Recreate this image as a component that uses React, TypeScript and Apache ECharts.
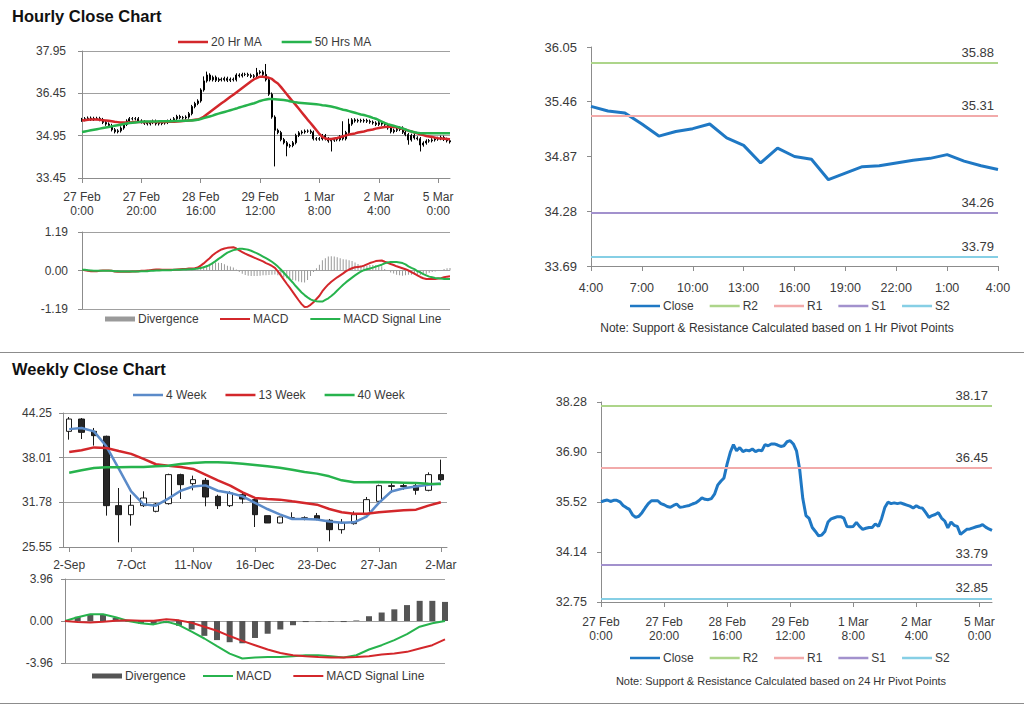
import React, { useEffect, useRef } from 'react';
import * as echarts from 'echarts';

// ---------- categories ----------
const hourDays = ['27 Feb', '28 Feb', '29 Feb', '1 Mar', '2 Mar', '5 Mar'];
const hourlyCategories: string[] = [];
for (const d of hourDays) for (let h = 0; h < 24; h++) hourlyCategories.push(`${d}\n${h}:00`);
hourlyCategories.length = 125;
const last24Categories = hourlyCategories.slice(100).map((c) => c.split('\n')[1]);

const weeklyCategories = ['2-Sep', '9-Sep', '16-Sep', '23-Sep', '30-Sep', '7-Oct', '14-Oct', '21-Oct', '28-Oct', '4-Nov', '11-Nov', '18-Nov', '25-Nov', '2-Dec', '9-Dec', '16-Dec', '17-Dec', '18-Dec', '19-Dec', '20-Dec', '23-Dec', '30-Dec', '6-Jan', '13-Jan', '20-Jan', '27-Jan', '3-Feb', '10-Feb', '17-Feb', '24-Feb', '2-Mar'];

// ---------- tick labels ----------
const hourlyPriceTicks = ['33.45', '34.95', '36.45', '37.95'];
const hourlyMacdTicks = ['-1.19', '0.00', '1.19'];
const last24Ticks = ['33.69', '34.28', '34.87', '35.46', '36.05'];
const hourlyLineTicks = ['32.75', '34.14', '35.52', '36.90', '38.28'];
const weeklyPriceTicks = ['25.55', '31.78', '38.01', '44.25'];
const weeklyMacdTicks = ['-3.96', '0.00', '3.96'];

// ---------- hourly data ----------
const hourlyClose = [35.52, 35.55, 35.57, 35.53, 35.56, 35.56, 35.52, 35.42, 35.36, 35.31,
  35.16, 35.09, 35.12, 35.22, 35.35, 35.47, 35.55, 35.55, 35.55, 35.47,
  35.44, 35.39, 35.37, 35.42, 35.46, 35.37, 35.38, 35.40, 35.42, 35.46,
  35.49, 35.55, 35.63, 35.59, 35.58, 35.61, 35.73, 35.98, 36.09, 36.18,
  36.57, 36.89, 37.10, 36.93, 37.02, 36.91, 36.95, 36.93, 36.98, 36.91,
  36.95, 36.93, 37.10, 37.07, 37.12, 37.12, 37.09, 37.05, 37.07, 37.18,
  37.21, 37.12, 36.93, 36.42, 35.61, 35.14, 35.06, 34.81, 34.70, 34.58,
  34.60, 34.70, 34.96, 35.05, 35.08, 35.11, 35.11, 35.07, 34.84, 34.83,
  34.84, 34.95, 34.84, 34.76, 34.79, 34.81, 34.81, 34.91, 34.84, 35.06,
  35.36, 35.51, 35.47, 35.49, 35.47, 35.49, 35.46, 35.43, 35.40, 35.35,
  35.41, 35.36, 35.34, 35.22, 35.09, 35.14, 35.17, 35.22, 35.07, 34.99,
  34.80, 34.96, 34.87, 34.84, 34.62, 34.69, 34.76, 34.77, 34.80, 34.83,
  34.85, 34.89, 34.82, 34.77, 34.73];
const hourlyFirstOpen = 35.50;
const hourlyWick = 0.06;
const hourlyHighSpikes: [number, number][] = [[41, 37.05], [42, 37.22], [59, 37.35], [62, 37.49], [88, 35.46], [90, 35.55]];
const hourlyLowSpikes: [number, number][] = [[65, 33.86], [69, 34.22], [84, 34.39], [110, 34.63], [114, 34.39]];

const hourlyMa20 = [35.49, 35.50, 35.51, 35.52, 35.52, 35.52, 35.51, 35.50, 35.49, 35.48,
  35.46, 35.44, 35.43, 35.42, 35.42, 35.42, 35.42, 35.43, 35.43, 35.43,
  35.43, 35.43, 35.43, 35.43, 35.43, 35.43, 35.43, 35.43, 35.43, 35.44,
  35.44, 35.44, 35.45, 35.46, 35.47, 35.48, 35.49, 35.50, 35.51, 35.52,
  35.56, 35.62, 35.70, 35.78, 35.86, 35.94, 36.02, 36.10, 36.17, 36.25,
  36.33, 36.40, 36.48, 36.56, 36.64, 36.72, 36.80, 36.88, 36.95, 37.00,
  37.04, 37.04, 37.02, 37.00, 36.96, 36.87, 36.80, 36.68, 36.55, 36.42,
  36.29, 36.16, 36.04, 35.91, 35.78, 35.65, 35.52, 35.40, 35.27, 35.14,
  35.01, 34.91, 34.85, 34.83, 34.83, 34.85, 34.87, 34.90, 34.93, 34.96,
  34.99, 35.01, 35.03, 35.06, 35.08, 35.10, 35.13, 35.15, 35.17, 35.20,
  35.22, 35.24, 35.26, 35.27, 35.27, 35.26, 35.25, 35.22, 35.19, 35.16,
  35.13, 35.10, 35.06, 35.03, 35.00, 34.97, 34.94, 34.92, 34.90, 34.88,
  34.86, 34.85, 34.84, 34.83, 34.82];
const hourlyMa50 = [35.08, 35.10, 35.12, 35.14, 35.16, 35.18, 35.20, 35.22, 35.24, 35.26,
  35.28, 35.30, 35.32, 35.34, 35.36, 35.38, 35.40, 35.41, 35.42, 35.43,
  35.44, 35.45, 35.45, 35.45, 35.45, 35.45, 35.46, 35.46, 35.46, 35.46,
  35.46, 35.47, 35.47, 35.47, 35.48, 35.48, 35.49, 35.49, 35.50, 35.51,
  35.54, 35.57, 35.60, 35.63, 35.66, 35.70, 35.73, 35.76, 35.79, 35.82,
  35.85, 35.88, 35.91, 35.95, 35.98, 36.01, 36.04, 36.07, 36.10, 36.14,
  36.18, 36.21, 36.23, 36.25, 36.25, 36.24, 36.23, 36.22, 36.21, 36.20,
  36.17, 36.15, 36.13, 36.12, 36.11, 36.10, 36.09, 36.08, 36.07, 36.06,
  36.05, 36.03, 36.02, 36.00, 35.98, 35.96, 35.93, 35.90, 35.87, 35.85,
  35.82, 35.79, 35.76, 35.73, 35.70, 35.68, 35.65, 35.62, 35.58, 35.55,
  35.50, 35.45, 35.40, 35.36, 35.33, 35.30, 35.27, 35.24, 35.21, 35.17,
  35.13, 35.10, 35.07, 35.05, 35.04, 35.04, 35.04, 35.04, 35.04, 35.04,
  35.04, 35.04, 35.04, 35.04, 35.04];
const hourlyMacd = [0.02, 0.01, -0.01, -0.02, -0.02, -0.02, -0.01, 0.00, 0.00, 0.00,
  -0.01, -0.03, -0.04, -0.04, -0.04, -0.04, -0.04, -0.03, -0.03, -0.02,
  -0.01, -0.01, 0.00, 0.01, 0.02, 0.03, 0.03, 0.02, 0.02, 0.02,
  0.02, 0.02, 0.03, 0.04, 0.05, 0.05, 0.06, 0.06, 0.07, 0.09,
  0.15, 0.22, 0.30, 0.38, 0.47, 0.54, 0.60, 0.65, 0.68, 0.70,
  0.71, 0.72, 0.68, 0.62, 0.57, 0.52, 0.48, 0.44, 0.40, 0.36,
  0.32, 0.28, 0.23, 0.19, 0.14, 0.08, -0.03, -0.15, -0.28, -0.41,
  -0.53, -0.66, -0.79, -0.92, -1.04, -1.13, -1.12, -1.06, -0.98, -0.88,
  -0.78, -0.64, -0.53, -0.43, -0.35, -0.28, -0.21, -0.15, -0.09, -0.02,
  0.03, 0.07, 0.10, 0.11, 0.12, 0.15, 0.19, 0.23, 0.26, 0.29,
  0.30, 0.31, 0.27, 0.24, 0.20, 0.17, 0.13, 0.10, 0.07, 0.04,
  0.00, -0.05, -0.10, -0.15, -0.20, -0.24, -0.26, -0.26, -0.26, -0.26,
  -0.25, -0.24, -0.21, -0.19, -0.18];
const hourlySignal = [0.02, 0.02, 0.01, 0.00, -0.01, -0.01, -0.01, -0.01, -0.01, -0.01,
  -0.01, -0.02, -0.02, -0.03, -0.03, -0.03, -0.03, -0.03, -0.03, -0.03,
  -0.02, -0.02, -0.02, -0.01, -0.01, 0.00, 0.00, 0.01, 0.01, 0.01,
  0.01, 0.02, 0.02, 0.02, 0.03, 0.03, 0.04, 0.04, 0.05, 0.06,
  0.08, 0.10, 0.13, 0.17, 0.23, 0.29, 0.36, 0.42, 0.49, 0.55,
  0.59, 0.63, 0.65, 0.67, 0.67, 0.66, 0.64, 0.61, 0.57, 0.53,
  0.48, 0.43, 0.38, 0.33, 0.27, 0.20, 0.12, 0.03, -0.07, -0.17,
  -0.27, -0.37, -0.48, -0.58, -0.68, -0.76, -0.83, -0.89, -0.93, -0.95,
  -0.96, -0.96, -0.91, -0.86, -0.79, -0.71, -0.62, -0.53, -0.44, -0.36,
  -0.29, -0.22, -0.15, -0.09, -0.03, 0.01, 0.04, 0.06, 0.09, 0.12,
  0.15, 0.18, 0.22, 0.25, 0.26, 0.26, 0.26, 0.25, 0.23, 0.19,
  0.13, 0.08, 0.04, -0.02, -0.06, -0.11, -0.15, -0.19, -0.21, -0.23,
  -0.24, -0.25, -0.26, -0.26, -0.26];
const hourlyDivergence = [0.00, -0.01, -0.02, -0.02, -0.01, -0.01, 0.00, 0.01, 0.01, 0.01,
  0.00, -0.01, -0.02, -0.01, -0.01, -0.01, -0.01, 0.00, 0.00, 0.01,
  0.01, 0.01, 0.02, 0.02, 0.03, 0.03, 0.03, 0.01, 0.01, 0.01,
  0.01, 0.00, 0.01, 0.02, 0.02, 0.02, 0.02, 0.02, 0.02, 0.03,
  0.07, 0.12, 0.17, 0.21, 0.24, 0.25, 0.24, 0.23, 0.19, 0.15,
  0.12, 0.09, 0.03, -0.05, -0.10, -0.14, -0.16, -0.17, -0.17, -0.17,
  -0.16, -0.15, -0.15, -0.14, -0.13, -0.12, -0.15, -0.18, -0.21, -0.24,
  -0.26, -0.29, -0.31, -0.34, -0.36, -0.37, -0.29, -0.17, -0.05, 0.07,
  0.18, 0.32, 0.38, 0.43, 0.44, 0.43, 0.41, 0.38, 0.35, 0.34,
  0.32, 0.29, 0.25, 0.20, 0.15, 0.14, 0.15, 0.17, 0.17, 0.17,
  0.15, 0.13, 0.05, -0.01, -0.06, -0.09, -0.13, -0.15, -0.16, -0.15,
  -0.13, -0.13, -0.14, -0.13, -0.14, -0.13, -0.11, -0.07, -0.05, -0.03,
  -0.01, 0.01, 0.05, 0.07, 0.08];

// pivot levels
const pivotNames = ['R2', 'R1', 'S1', 'S2'];
const pivot1hValues = [35.88, 35.31, 34.26, 33.79];
const pivot24hValues = [38.17, 36.45, 33.79, 32.85];

// ---------- weekly data ----------
const weeklyOpen = [41.69, 43.41, 41.69, 41.00, 31.32, 30.06, 31.32, 30.53, 31.60, 35.65, 34.39, 34.85, 32.62, 31.32, 32.85, 32.16, 29.92, 28.90, 29.62, 29.60, 29.92, 29.28, 27.97, 28.81, 30.06, 31.93, 34.00, 34.11, 34.11, 33.46, 35.65];
const weeklyClose = [43.41, 41.55, 41.09, 31.32, 30.06, 31.37, 32.39, 31.55, 35.65, 34.25, 34.95, 32.53, 31.32, 33.09, 32.25, 30.06, 28.90, 29.74, 29.60, 29.62, 29.46, 27.97, 28.99, 30.06, 32.16, 34.11, 34.11, 34.00, 33.46, 35.65, 34.95];
const weeklyLow = [40.53, 40.62, 39.70, 29.93, 26.20, 28.53, 31.13, 30.39, 31.46, 32.25, 33.46, 31.23, 30.85, 31.13, 31.60, 28.34, 28.90, 28.85, 29.37, 29.28, 29.28, 26.34, 27.41, 28.67, 29.83, 31.78, 33.09, 33.55, 32.85, 33.32, 34.72];
const weeklyHigh = [43.69, 43.55, 42.16, 41.09, 33.78, 32.85, 33.32, 31.69, 35.78, 35.78, 35.51, 35.18, 32.85, 33.32, 33.32, 32.53, 29.92, 29.80, 30.39, 29.83, 30.30, 29.46, 29.46, 30.53, 32.53, 34.25, 34.72, 34.58, 34.39, 35.97, 37.74];
const weeklyMa4 = [42.00, 42.16, 41.69, 39.60, 36.50, 33.30, 31.50, 31.32, 32.30, 33.40, 34.00, 34.15, 33.40, 33.09, 32.62, 31.70, 30.85, 30.10, 29.46, 29.46, 29.40, 29.10, 28.92, 29.00, 29.80, 31.70, 33.30, 33.75, 34.00, 34.25, 34.40];
const weeklyMa13 = [38.80, 39.04, 39.45, 39.37, 38.95, 38.55, 37.85, 37.10, 36.90, 36.72, 36.44, 35.65, 34.85, 34.11, 33.18, 32.39, 32.25, 32.16, 31.92, 31.69, 31.46, 30.85, 30.39, 30.20, 30.20, 30.39, 30.53, 30.67, 30.76, 31.32, 31.80];
const weeklyMa40 = [35.90, 36.25, 36.58, 36.67, 36.67, 36.72, 36.72, 36.81, 36.90, 37.13, 37.27, 37.37, 37.37, 37.32, 37.18, 37.00, 36.81, 36.62, 36.34, 36.02, 35.79, 35.41, 34.85, 34.58, 34.58, 34.62, 34.58, 34.53, 34.48, 34.39, 34.34];
const weeklyMacd = [0.00, 0.35, 0.63, 0.63, 0.35, 0.00, -0.22, -0.32, -0.06, -0.38, -1.01, -1.65, -2.37, -3.07, -3.54, -3.45, -3.39, -3.39, -3.32, -3.23, -3.23, -3.32, -3.45, -3.23, -2.69, -2.28, -1.80, -1.23, -0.54, -0.22, 0.00];
const weeklySignal = [0.00, -0.10, -0.13, -0.06, 0.03, 0.06, 0.03, 0.03, 0.16, 0.06, -0.16, -0.54, -0.92, -1.42, -1.87, -2.28, -2.69, -3.01, -3.23, -3.32, -3.39, -3.45, -3.45, -3.39, -3.32, -3.16, -3.07, -2.91, -2.59, -2.28, -1.74];
const weeklyDivergence = [0.00, 0.40, 0.57, 0.60, 0.30, -0.06, -0.25, -0.30, -0.20, -0.45, -0.80, -1.40, -1.80, -2.00, -2.10, -1.60, -1.20, -0.80, -0.40, -0.10, -0.05, -0.05, -0.10, 0.05, 0.45, 0.80, 1.10, 1.50, 1.90, 1.90, 1.80];

// ---------- styling ----------
const FONT = 'Liberation Sans, Arial, sans-serif';
const axisGray = '#8c8c8c';
const gridGray = '#a0a0a0';
const labelColor = '#3a3a3a';
const closeBlue = '#1f78c4';
const pivotColors = ['#add58a', '#f2aaaa', '#a291cd', '#86cfe5'];
const red = '#d3272b';
const green = '#27b34d';
const weeklyBlue = '#5b8bc9';
const divLight = '#9a9a9a';
const divDark = '#555555';

function valueAxis(gridIndex: number, ticks: string[], split: boolean, margin: number, fontSize = 12) {
  const min = parseFloat(ticks[0]);
  const max = parseFloat(ticks[ticks.length - 1]);
  const interval = (max - min) / (ticks.length - 1);
  return {
    type: 'value', gridIndex, min, max, interval,
    axisLine: { show: true, lineStyle: { color: axisGray } },
    axisTick: { show: true, length: 4, lineStyle: { color: axisGray } },
    splitLine: { show: split, lineStyle: { color: gridGray } },
    axisLabel: {
      margin, fontSize, color: labelColor, fontFamily: FONT,
      formatter: (v: number) => ticks[Math.round((v - min) / interval)] ?? '',
    },
  };
}

function catAxis(gridIndex: number, data: string[], opts: any) {
  return {
    type: 'category', gridIndex, data, boundaryGap: opts.boundaryGap ?? false,
    axisLine: { show: opts.show !== false, onZero: false, lineStyle: { color: axisGray } },
    axisTick: { show: opts.show !== false, length: 5, interval: opts.interval, alignWithLabel: true, lineStyle: { color: axisGray } },
    axisLabel: {
      show: opts.show !== false, interval: opts.interval, margin: opts.margin ?? 8,
      fontSize: opts.fontSize ?? 12, lineHeight: 14, color: labelColor, fontFamily: FONT,
    },
    splitLine: { show: false },
  };
}

function lineSeries(name: string, data: number[], color: string, width: number, xi: number) {
  return {
    name, type: 'line', data, xAxisIndex: xi, yAxisIndex: xi, symbol: 'none', showSymbol: false,
    color, lineStyle: { color, width }, silent: true, z: 3,
  };
}

function pivotSeries(name: string, value: number, color: string, xi: number) {
  return {
    name, type: 'line', data: [], xAxisIndex: xi, yAxisIndex: xi, symbol: 'none', color,
    lineStyle: { color, width: 2 },
    markLine: {
      silent: true, symbol: ['none', 'none'], animation: false,
      lineStyle: { color, width: 2, type: 'solid' },
      label: { position: 'insideEndTop', formatter: value.toFixed(2), color: labelColor, fontSize: 13, fontFamily: FONT, distance: 4 },
      emphasis: { disabled: true },
      data: [{ yAxis: value }],
    },
  };
}

// every legend icon is drawn as a plain rectangle (a line swatch or a bar swatch)
function legend(left: number, top: number, gap: number, itemHeight: number, items: [string, string][]) {
  return {
    left, top, itemGap: gap, itemWidth: 30, itemHeight, padding: 0, selectedMode: false,
    icon: 'rect',
    textStyle: { fontSize: 12, color: labelColor, fontFamily: FONT, padding: [0, 0, 0, -2] },
    data: items.map(([name, color]) => ({ name, icon: 'rect', itemStyle: { color, borderWidth: 0 } })),
  };
}

const hourlyOhlc = hourlyClose.map((c, i) => {
  const o = i === 0 ? hourlyFirstOpen : hourlyClose[i - 1];
  let lo = Math.min(o, c) - hourlyWick;
  let hi = Math.max(o, c) + hourlyWick;
  for (const [k, v] of hourlyLowSpikes) if (k === i) lo = v;
  for (const [k, v] of hourlyHighSpikes) if (k === i) hi = v;
  return [o, c, lo, hi];
});
const weeklyOhlc = weeklyOpen.map((o, i) => [o, weeklyClose[i], weeklyLow[i], weeklyHigh[i]]);
const last24Close = hourlyClose.slice(100);

const pivotLegendItems: [string, string][] = pivotNames.map((n, i) => [n, pivotColors[i]]);

const option: any = {
  animation: false,
  backgroundColor: '#ffffff',
  textStyle: { fontFamily: FONT },
  graphic: [
    { type: 'text', style: { text: 'Hourly Close Chart', x: 12, y: 16, textVerticalAlign: 'middle', font: `bold 16.5px ${FONT}`, fill: '#111' } },
    { type: 'text', style: { text: 'Weekly Close Chart', x: 12, y: 369, textVerticalAlign: 'middle', font: `bold 16.5px ${FONT}`, fill: '#111' } },
    { type: 'line', shape: { x1: 0, y1: 352.5, x2: 1024, y2: 352.5 }, style: { stroke: '#8c8c8c', lineWidth: 1 } },
    { type: 'line', shape: { x1: 0, y1: 703.5, x2: 1024, y2: 703.5 }, style: { stroke: '#8c8c8c', lineWidth: 1 } },
    { type: 'text', style: { text: 'Note: Support & Resistance Calculated based on 1 Hr Pivot Points', x: 777, y: 328, textAlign: 'center', textVerticalAlign: 'middle', font: `12px ${FONT}`, fill: '#333' } },
    { type: 'text', style: { text: 'Note: Support & Resistance Calculated based on 24 Hr Pivot Points', x: 781, y: 681, textAlign: 'center', textVerticalAlign: 'middle', font: `11px ${FONT}`, fill: '#333' } },
  ],
  grid: [
    { left: 82, top: 51, width: 368, height: 127 },
    { left: 82, top: 232, width: 368, height: 77 },
    { left: 591, top: 47, width: 407, height: 219 },
    { left: 63, top: 413, width: 384, height: 134 },
    { left: 65, top: 579, width: 380, height: 84 },
    { left: 601, top: 402, width: 391, height: 200 },
  ],
  xAxis: [
    catAxis(0, hourlyCategories, { interval: 19, margin: 12 }),
    catAxis(1, hourlyCategories, { show: false }),
    catAxis(2, last24Categories, { interval: 2, margin: 15, fontSize: 12.5 }),
    catAxis(3, weeklyCategories, { interval: 4, margin: 11, boundaryGap: true }),
    catAxis(4, weeklyCategories, { show: false }),
    catAxis(5, hourlyCategories, { interval: 19, margin: 13 }),
  ],
  yAxis: [
    valueAxis(0, hourlyPriceTicks, true, 16),
    valueAxis(1, hourlyMacdTicks, true, 14),
    valueAxis(2, last24Ticks, false, 14, 13),
    valueAxis(3, weeklyPriceTicks, true, 11),
    valueAxis(4, weeklyMacdTicks, true, 12),
    valueAxis(5, hourlyLineTicks, false, 14, 12.5),
  ],
  legend: [
    legend(178, 36, 20, 2.5, [['20 Hr MA', red], ['50 Hrs MA', green]]),
    legend(105, 313, 20, 5, [['Divergence', divLight]]),
    legend(220, 313, 22, 2, [['MACD', red], ['MACD Signal Line', green]]),
    legend(630, 300, 16, 2.5, [['Close', closeBlue], ...pivotLegendItems]),
    legend(133, 389, 19, 2.5, [['4 Week', weeklyBlue], ['13 Week', red], ['40 Week', green]]),
    legend(92, 670, 20, 5, [['Divergence', divDark]]),
    legend(203, 670, 22, 2, [['MACD', green], ['MACD Signal Line', red]]),
    legend(630, 652, 16, 2.5, [['Close', closeBlue], ...pivotLegendItems]),
  ],
  series: [
    // hourly price
    {
      name: 'Hourly Bars', type: 'candlestick', xAxisIndex: 0, yAxisIndex: 0, data: hourlyOhlc, barWidth: 1.5, silent: true,
      itemStyle: { color: '#000', color0: '#000', borderColor: '#000', borderColor0: '#000', borderWidth: 1 },
    },
    lineSeries('20 Hr MA', hourlyMa20, red, 2.5, 0),
    lineSeries('50 Hrs MA', hourlyMa50, green, 2.5, 0),
    // hourly MACD
    { name: 'Divergence', type: 'bar', xAxisIndex: 1, yAxisIndex: 1, data: hourlyDivergence, barWidth: 1, color: divLight, itemStyle: { color: divLight }, silent: true },
    lineSeries('MACD', hourlyMacd, red, 2, 1),
    lineSeries('MACD Signal Line', hourlySignal, green, 2, 1),
    // last 24 hours
    lineSeries('Close', last24Close, closeBlue, 3, 2),
    ...pivotNames.map((n, i) => pivotSeries(n, pivot1hValues[i], pivotColors[i], 2)),
    // weekly price
    {
      name: 'Weekly Bars', type: 'candlestick', xAxisIndex: 3, yAxisIndex: 3, data: weeklyOhlc, barWidth: 6, silent: true,
      itemStyle: { color: '#ffffff', color0: '#262626', borderColor: '#1a1a1a', borderColor0: '#1a1a1a', borderWidth: 1 },
    },
    lineSeries('4 Week', weeklyMa4, weeklyBlue, 2.5, 3),
    lineSeries('13 Week', weeklyMa13, red, 2.5, 3),
    lineSeries('40 Week', weeklyMa40, green, 2.5, 3),
    // weekly MACD
    { name: 'Divergence', type: 'bar', xAxisIndex: 4, yAxisIndex: 4, data: weeklyDivergence, barWidth: 6, color: divDark, itemStyle: { color: divDark }, silent: true },
    lineSeries('MACD', weeklyMacd, green, 2, 4),
    lineSeries('MACD Signal Line', weeklySignal, red, 2, 4),
    // hourly close line
    lineSeries('Close', hourlyClose, closeBlue, 3, 5),
    ...pivotNames.map((n, i) => pivotSeries(n, pivot24hValues[i], pivotColors[i], 5)),
  ],
};

export default function App() {
  const ref = useRef<HTMLDivElement>(null);
  useEffect(() => {
    const chart = echarts.init(ref.current!, null, { renderer: 'svg' });
    chart.setOption(option);
    return () => chart.dispose();
  }, []);
  return (
    <div
      ref={ref}
      style={{ position: 'fixed', left: 0, top: 0, width: 1024, height: 706, background: '#fff' }}
    />
  );
}
